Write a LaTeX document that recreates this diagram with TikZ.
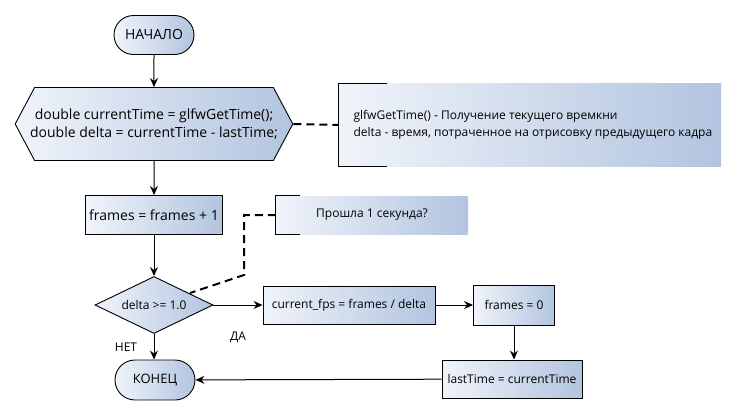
\documentclass[tikz,border=0pt]{standalone}
\usepackage{fontspec}
\setmainfont{Open Sans}
\usetikzlibrary{arrows.meta,shapes.geometric,shapes.misc,shapes.symbols}

\definecolor{boxlight}{HTML}{F0F4FA}
\definecolor{boxdark}{HTML}{B2C4DF}

\tikzset{
    every node/.style={font=\fontsize{12}{17}\selectfont},
    big/.style={font=\fontsize{14}{18}\selectfont},
    flow/.style={draw=black, line width=0.9pt, left color=boxlight, right color=boxdark, inner sep=0pt},
    terminal/.style={flow, rounded rectangle, minimum width=80pt, minimum height=39pt},
    action/.style={flow, rectangle, minimum height=39pt},
    prep/.style={flow, signal, signal to=west and east, signal pointer angle=124, inner xsep=-4.5pt, minimum height=73pt, align=center},
    decision/.style={flow, diamond, aspect=2.07, minimum width=118pt, minimum height=57pt, fill=boxdark!70!boxlight},
    notebox/.style={left color=boxlight, right color=boxdark, inner sep=0pt},
    link/.style={line width=1pt, -{Stealth[length=9pt,width=8pt,inset=3pt]}},
    remark/.style={line width=2pt, dash pattern=on 8pt off 5pt}
}

\begin{document}
\begin{tikzpicture}[x=1pt, y=-1pt]
    \useasboundingbox (0,0) rectangle (737,415);

    % main flow
    \node[terminal, big] (start) at (154,35) {НАЧАЛО};
    \node[prep, big] (init) at (154,124) {double currentTime = glfwGetTime();\\double delta = currentTime - lastTime;};
    \node[action, big, minimum width=137pt] (inc) at (154,215) {frames = frames + 1};
    \node[decision] (check) at (154,305) {delta >= 1.0};
    \node[action, minimum width=172pt, minimum height=38pt] (fps) at (349,305) {current\_fps = frames / delta};
    \node[action, minimum width=81pt, minimum height=40pt] (reset) at (514,305) {frames = 0};
    \node[action, minimum width=140pt, minimum height=38pt] (last) at (512,379) {lastTime = currentTime};
    \node[terminal, minimum height=40pt, font=\fontsize{13}{16}\selectfont] (stop) at (155,380) {КОНЕЦ};

    \node (no) at (126,347) {НЕТ};
    \node (yes) at (238,337) {ДА};

    % comments
    \node[notebox, minimum width=382pt, minimum height=83pt] (note1) at (530,125) {};
    \node[anchor=west, align=left] (note1text) at (350,125) {glfwGetTime() - Получение текущего времкни\\delta - время, потраченное на отрисовку предыдущего кадра};
    \draw[line width=0.9pt] ([xshift=48pt]note1.north west) -- (note1.north west) -- (note1.south west) -- ([xshift=48pt]note1.south west);

    \node[notebox, minimum width=192pt, minimum height=38pt] (note2) at (372,215) {};
    \node (note2text) at (372,215) {Прошла 1 секунда?};
    \draw[line width=0.9pt] ([xshift=24pt]note2.north west) -- (note2.north west) -- (note2.south west) -- ([xshift=24pt]note2.south west);

    \coordinate (bend1) at (244,215);
    \coordinate (bend2) at (244,275);
    \coordinate (tip) at (190,293);

    % connectors
    \draw[link] (start) -- (init);
    \draw[link] (init) -- (inc);
    \draw[link] (inc) -- (check);
    \draw[link] (check.east) -- (fps.west);
    \draw[link] (fps) -- (reset);
    \draw[link] (reset) -- (reset |- last.north);
    \draw[link] (last) -- (stop);
    \draw[link] (check.south) -- (check.south |- stop.north);

    \draw[remark] (init.east) -- (note1.west);
    \draw[remark] (note2.west) -- (bend1) -- (bend2) -- (tip);
\end{tikzpicture}
\end{document}
